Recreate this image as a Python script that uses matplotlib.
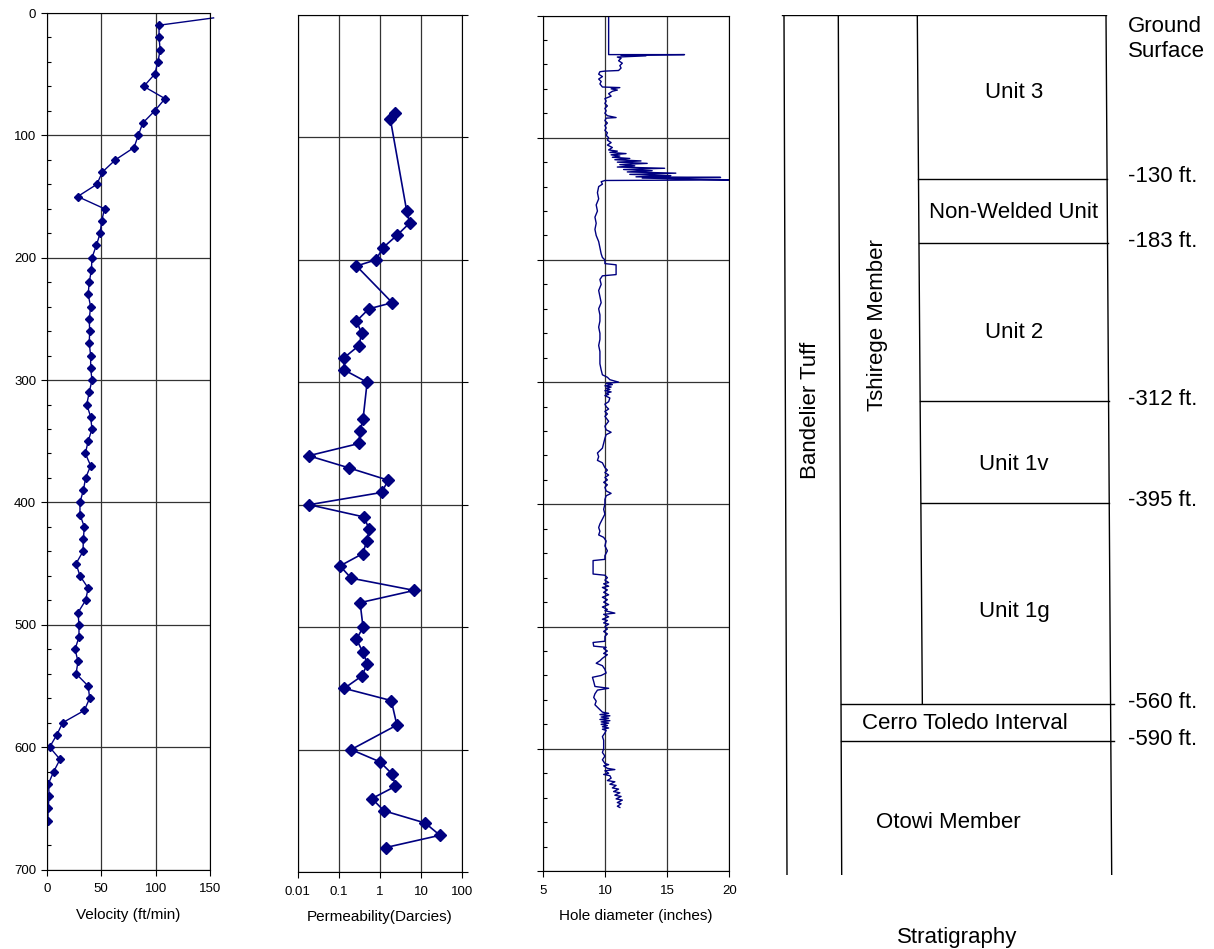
import matplotlib.pyplot as plt
import matplotlib.ticker as mticker

plt.rcParams['font.family'] = ['Liberation Sans', 'DejaVu Sans']

# ---- data (depth in ft below ground surface) ----

# velocity, one reading every 10 ft from 10 to 660 ft
vel_depth = list(range(10, 670, 10))
velocity = [103, 103, 104, 102, 99, 89, 108.5, 99, 88, 84,
            80, 63, 51, 46, 28.4, 53, 50.4, 49, 45.5, 41.5,
            41, 39, 38, 40.3, 39, 39.4, 39, 40.3, 40.3, 41.5,
            39, 36.7, 40.3, 41.5, 38, 35.4, 40.3, 35.7, 33.6, 30.5,
            30.5, 34.5, 33.6, 33.3, 26.9, 30.5, 38, 35.7, 28.7, 29.6,
            29.6, 26, 28.7, 26.9, 38, 39.4, 34.5, 14.7, 9.2, 2.7,
            12.2, 6.4, 1.5, 2.4, 1.2, 1.2]
# near-surface reading that runs off the scale
vel_top_depth = [4, 10]
vel_top = [153, 103]

perm_depth = [80, 85, 160, 170, 180, 190, 200, 205, 235, 240,
              250, 260, 270, 280, 290, 300, 330, 340, 350, 360,
              370, 380, 390, 400, 410, 420, 430, 440, 450, 460,
              470, 480, 500, 510, 520, 530, 540, 550, 560, 580,
              600, 610, 620, 630, 640, 650, 660, 670, 680]
permeability = [2.3, 1.8, 4.5, 5.3, 2.6, 1.2, 0.8, 0.27, 2.0, 0.54,
                0.27, 0.36, 0.31, 0.134, 0.137, 0.49, 0.39, 0.33, 0.31, 0.0185,
                0.18, 1.6, 1.1, 0.019, 0.41, 0.55, 0.48, 0.38, 0.107, 0.2,
                6.9, 0.33, 0.39, 0.27, 0.38, 0.5, 0.36, 0.136, 1.9, 2.6,
                0.2, 1.0, 2.0, 2.4, 0.64, 1.26, 12.7, 29, 1.4]

hole_depth = [0, 32, 32, 32.5, 33, 34, 35, 37, 39, 41, 43, 45, 45.5, 46, 48, 50, 52, 54, 56, 58.5,
              59, 60, 61, 62, 64, 66, 68, 70, 72, 74, 76, 78, 80, 82, 83.5, 84, 86, 88, 90, 92,
              94, 96, 98, 100, 102, 104, 106, 108, 110, 111, 112, 113, 114, 115, 116, 117, 118, 119, 120, 121,
              122, 123, 124, 125, 126, 127, 128, 129, 130, 131, 132, 132.5, 133, 134, 134.5, 135, 136, 138, 140, 145,
              150, 155, 160, 165, 170, 175, 180, 185, 190, 195, 198, 200, 203, 204, 212, 213, 216, 220, 225, 230,
              235, 240, 245, 250, 255, 260, 265, 270, 275, 280, 285, 290, 294, 296, 298, 300, 301, 302, 303, 304,
              305, 306, 307, 308, 309, 310, 311, 313, 316, 318, 320, 322, 324, 326, 328, 332, 336, 339, 341, 343,
              346, 350, 354, 358, 361, 364, 366, 370, 372, 374, 376, 378, 380, 382, 384, 386, 389, 391, 393, 396,
              400, 404, 408, 412, 416, 419, 422, 425, 427, 430, 434, 438, 442, 445, 446, 457, 458, 460, 462, 464,
              465, 467, 468, 470, 472, 474, 476, 478, 480, 482, 484, 486, 487, 489, 490, 492, 494, 495, 497, 498,
              500, 502, 504, 506, 508, 512, 513, 516, 517, 518, 520, 522, 523, 526, 528, 530, 532, 535, 538, 540,
              541.5, 545, 549, 550.5, 552, 555, 558, 561, 564, 567, 570, 571, 572, 573, 574, 575, 576, 577, 578, 579,
              580, 581, 582, 583, 584, 585, 587, 590, 593, 596, 600, 603, 606, 609, 612, 613, 614, 616, 617, 618,
              620, 621, 622, 624, 626, 627, 629, 630, 632, 633, 635, 636, 638, 639, 641, 642, 644, 645, 647, 648]
hole_diam = [10.3, 10.3, 16.4, 11.3, 13.3, 11.0, 11.3, 11.1, 11.4, 11.2, 11.3, 11.1, 10.0, 9.6, 9.5, 9.8, 9.5, 9.7, 9.6, 9.8,
             11.2, 10.5, 11.0, 10.6, 10.3, 10.5, 10.0, 10.1, 10.0, 10.2, 10.0, 10.1, 10.0, 10.2, 10.9, 10.1, 10.0, 10.2, 10.0, 10.1,
             10.0, 10.2, 10.1, 10.3, 10.2, 10.5, 10.2, 10.6, 10.3, 11.0, 10.4, 11.7, 10.5, 11.2, 10.6, 12.0, 10.8, 12.9, 11.0, 13.4,
             11.2, 12.4, 11.0, 14.8, 11.5, 13.8, 11.8, 15.7, 12.0, 15.3, 12.5, 19.3, 13.0, 17.5, 20.5, 10.0, 9.7, 9.8, 9.5, 9.4,
             9.5, 9.3, 9.4, 9.2, 9.3, 9.2, 9.3, 9.5, 9.6, 9.7, 9.8, 10.0, 10.0, 10.9, 10.9, 9.8, 9.6, 9.7, 9.5, 9.6,
             9.7, 9.5, 9.6, 9.6, 9.5, 9.6, 9.6, 9.5, 9.6, 9.6, 9.6, 9.7, 9.8, 10.2, 10.4, 11.1, 10.1, 10.6, 10.0, 10.5,
             10.1, 10.4, 10.0, 10.5, 10.1, 10.3, 10.0, 10.4, 10.3, 10.0, 10.1, 10.3, 10.0, 10.2, 10.0, 10.3, 10.0, 10.1, 10.5, 10.1,
             10.0, 9.9, 9.8, 9.4, 9.5, 9.4, 9.8, 10.0, 10.2, 10.0, 10.3, 10.0, 10.2, 9.9, 10.2, 10.0, 10.1, 10.5, 10.1, 10.0,
             10.0, 9.9, 10.0, 9.8, 9.6, 9.5, 9.6, 9.5, 9.9, 10.1, 10.0, 10.2, 10.0, 10.0, 9.05, 9.05, 10.0, 10.2, 10.0, 10.3,
             9.9, 10.3, 9.8, 10.2, 9.9, 10.3, 9.8, 10.2, 9.9, 10.3, 9.8, 10.2, 10.0, 10.8, 9.9, 10.3, 9.8, 10.2, 9.9, 10.3,
             10.0, 10.2, 9.9, 10.2, 10.0, 10.0, 9.05, 9.1, 10.1, 9.9, 10.2, 9.9, 10.2, 9.8, 9.6, 9.3, 9.8, 10.0, 10.1, 9.7,
             9.0, 9.1, 9.2, 10.3, 9.4, 9.2, 9.1, 9.3, 9.2, 9.5, 9.8, 10.3, 9.6, 10.4, 9.7, 10.3, 9.6, 10.4, 9.7, 10.3,
             9.7, 10.2, 9.8, 10.3, 9.8, 10.1, 10.0, 9.8, 9.9, 9.9, 9.9, 9.8, 10.0, 9.8, 10.0, 10.3, 9.9, 10.2, 10.8, 10.0,
             10.3, 9.9, 10.4, 10.5, 10.2, 10.8, 10.4, 10.9, 10.6, 11.1, 10.7, 11.2, 10.8, 11.3, 10.9, 11.4, 11.0, 11.3, 11.0, 11.2]

contacts = [130, 183, 312, 395, 560, 590]
contact_labels = ['-130 ft.', '-183 ft.', '-312 ft.', '-395 ft.', '-560 ft.', '-590 ft.']
unit_names = ['Unit 3', 'Non-Welded Unit', 'Unit 2', 'Unit 1v', 'Unit 1g']
unit_label_depth = [60, 158, 256, 364, 484]

NAVY = '#000080'
W, H = 1214, 949


def box(l, r, t, b):
    # pixel box -> figure fraction
    return [l / W, 1 - b / H, (r - l) / W, (b - t) / H]


def style_log_axes(ax):
    ax.set_ylim(700, 0)
    ax.yaxis.set_major_locator(mticker.MultipleLocator(100))
    ax.yaxis.set_minor_locator(mticker.MultipleLocator(20))
    ax.grid(True, which='major', color='#333333', lw=0.9)
    ax.set_axisbelow(True)
    ax.tick_params(which='major', direction='out', length=4, width=0.8, labelsize=9.5)
    ax.tick_params(axis='x', which='major', pad=6)
    ax.tick_params(which='minor', direction='in', length=3, width=0.8)
    for s in ax.spines.values():
        s.set_linewidth(0.8)


fig = plt.figure(figsize=(W / 100, H / 100), dpi=100)

# velocity
ax1 = fig.add_axes(box(46.7, 210.3, 13, 869.5))
ax1.plot(vel_top, vel_top_depth, color=NAVY, lw=1, clip_on=False)
ax1.plot(velocity, vel_depth, color=NAVY, lw=1, marker='D', ms=4)
ax1.set_xlim(0, 150)
ax1.set_xticks([0, 50, 100, 150])
style_log_axes(ax1)
ax1.set_xlabel('Velocity (ft/min)', fontsize=11, labelpad=9)

# permeability
ax2 = fig.add_axes(box(297.7, 462, 15, 872))
ax2.plot(permeability, perm_depth, color=NAVY, lw=1.2, marker='D', ms=6.5)
ax2.set_xscale('log')
ax2.set_xlim(0.01, 100)
ax2.set_xticks([0.01, 0.1, 1, 10, 100])
ax2.set_xticklabels(['0.01', '0.1', '1', '10', '100'])
ax2.xaxis.set_minor_locator(mticker.NullLocator())
style_log_axes(ax2)
ax2.yaxis.set_minor_locator(mticker.NullLocator())
ax2.tick_params(axis='y', which='both', left=False, right=True,
                labelleft=False, labelright=False)
ax2.set_xlabel('Permeability(Darcies)', fontsize=11, labelpad=9)

# hole diameter
ax3 = fig.add_axes(box(542.7, 729.3, 15.5, 871))
ax3.plot(hole_diam, hole_depth, color=NAVY, lw=1)
ax3.set_xlim(5, 20)
ax3.set_xticks([5, 10, 15, 20])
style_log_axes(ax3)
ax3.tick_params(axis='y', which='both', labelleft=False)
ax3.set_xlabel('Hole diameter (inches)', fontsize=11, labelpad=9)

# stratigraphy column, x in pixels, y in feet
ax4 = fig.add_axes(box(770, 1214, 14.7, 875.4))
ax4.set_xlim(770, 1214)
ax4.set_ylim(700, -4)
ax4.axis('off')


def col_x(top, bottom, d):
    return top + (bottom - top) * (d + 4) / 704


c0 = (784, 787)
c1 = (838.3, 841.7)
c2 = (917.3, 923.6)
c3 = (1106, 1111.7)
kw = dict(color='black', lw=1)
ax4.plot([782, c3[0]], [-4, -4], **kw)
ax4.plot(c0, [-4, 700], **kw)
ax4.plot(c1, [-4, 700], **kw)
ax4.plot([c2[0], col_x(*c2, 560)], [-4, 560], **kw)
ax4.plot(c3, [-4, 700], **kw)
for d, lab in zip(contacts, contact_labels):
    if d < 560:
        x0 = col_x(*c2, d)
        x1 = col_x(*c3, d)
    else:
        x0 = col_x(*c1, d)
        x1 = col_x(*c3, d) + 3
    ax4.plot([x0, x1], [d, d], **kw)
    ax4.text(1128, d - 1.5, lab, fontsize=16, ha='left', va='center')

for name, d in zip(unit_names, unit_label_depth):
    ax4.text(1014, d, name, fontsize=16, ha='center', va='center')
ax4.text(965, 576, 'Cerro Toledo Interval', fontsize=16, ha='center', va='center')
ax4.text(948, 657, 'Otowi Member', fontsize=16, ha='center', va='center')
ax4.text(878, 250, 'Tshirege Member', fontsize=16, rotation=90, ha='center', va='center')
ax4.text(811, 320, 'Bandelier Tuff', fontsize=16, rotation=90, ha='center', va='center')
ax4.text(1128, 16, 'Ground\nSurface', fontsize=16, ha='left', va='center', linespacing=1.25)

fig.text(957 / W, 1 - 938 / H, 'Stratigraphy', fontsize=16, ha='center', va='center')

fig.savefig('out.png', dpi=100)
